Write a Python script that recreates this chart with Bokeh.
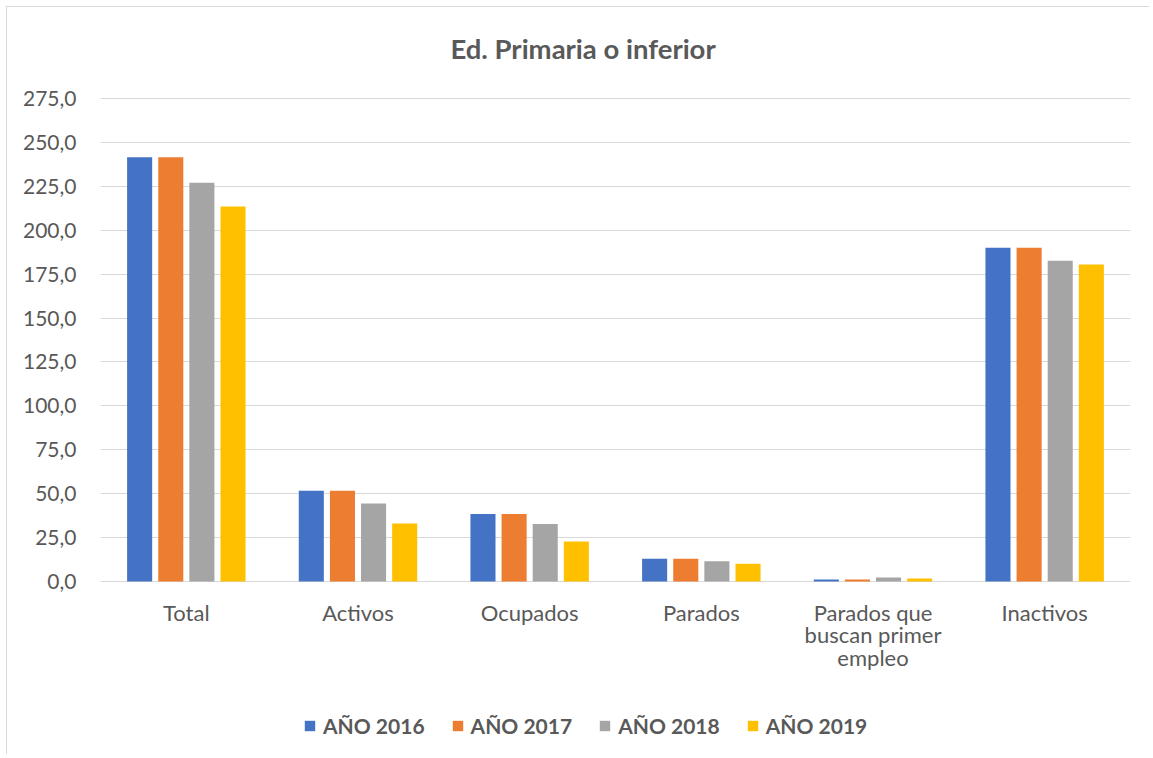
from bokeh.plotting import figure
from bokeh.models import (FactorRange, Range1d, Legend, LegendItem, FixedTicker,
                          CustomJSTickFormatter, ColumnDataSource, Label)
from bokeh.core.properties import value
from bokeh.transform import dodge
from bokeh.embed import file_html
from bokeh.resources import INLINE

title_text = "Ed. Primaria o inferior"
categories = ["Total", "Activos", "Ocupados", "Parados",
              "Parados que buscan primer empleo", "Inactivos"]
category_labels = ["Total", "Activos", "Ocupados", "Parados",
                   "Parados que\nbuscan primer\nempleo", "Inactivos"]
years = ["AÑO 2016", "AÑO 2017", "AÑO 2018", "AÑO 2019"]
y2016 = [241.6, 51.6, 38.5, 12.9, 1.1, 190.0]
y2017 = [241.6, 51.6, 38.5, 12.9, 1.1, 190.0]
y2018 = [227.0, 44.4, 32.8, 11.6, 2.3, 182.6]
y2019 = [213.5, 33.0, 22.8, 10.1, 1.7, 180.5]
y_ticks = [0, 25, 50, 75, 100, 125, 150, 175, 200, 225, 250, 275]

colors = ["#4472C4", "#ED7D31", "#A5A5A5", "#FFC000"]
offsets = [-0.272, -0.0906, 0.0906, 0.272]
TXT = "#595959"
FONT = "Lato"

source = ColumnDataSource(dict(cat=categories, y2016=y2016, y2017=y2017,
                               y2018=y2018, y2019=y2019))
label_source = ColumnDataSource(dict(cat=categories, label=category_labels,
                                     base=[0] * len(categories)))

# frame covers the title, plot and legend areas; 483 px per 275 units
px = 275 / 483
y_bottom = -169 * px
y_top = 275 + 90 * px

p = figure(width=1143, height=748, x_range=FactorRange(factors=categories),
           y_range=Range1d(y_bottom, y_top), output_backend="svg", toolbar_location=None,
           min_border_left=93, min_border_right=20, min_border_top=1,
           min_border_bottom=5)
p.outline_line_color = None
p.styles = {"margin-left": "6px", "margin-top": "6px",
            "border-left": "1px solid #d9d9d9", "border-top": "1px solid #d9d9d9"}

renderers = []
for key, col, off in zip(["y2016", "y2017", "y2018", "y2019"], colors, offsets):
    r = p.vbar(x=dodge("cat", off, range=p.x_range), top=key, width=0.146,
               source=source, fill_color=col, line_color=None)
    renderers.append(r)

p.text(x="cat", y="base", text="label", source=label_source, y_offset=17,
       text_align="center", text_baseline="top", text_color=TXT,
       text_font=value(FONT), text_font_size="22px", text_line_height=0.85)

p.add_layout(Label(x=2.811, y=275 + 50 * px, text=title_text,
                   text_align="center", text_baseline="middle",
                   text_font=FONT, text_font_size="27.5px", text_font_style="bold",
                   text_color=TXT))

p.xgrid.grid_line_color = None
p.ygrid.grid_line_color = "#d9d9d9"
p.ygrid.grid_line_width = 1

p.xaxis.visible = False
p.yaxis.ticker = FixedTicker(ticks=y_ticks)
p.yaxis.formatter = CustomJSTickFormatter(code="return tick.toFixed(1).replace('.', ',');")
ax = p.yaxis[0]
ax.axis_line_color = None
ax.major_tick_line_color = None
ax.minor_tick_line_color = None
ax.major_label_text_font = FONT
ax.major_label_text_font_size = "21px"
ax.major_label_text_color = TXT
ax.major_label_standoff = 18

legend = Legend(items=[LegendItem(label=y, renderers=[r]) for y, r in zip(years, renderers)],
                orientation="horizontal", location=(203, 12))
legend.glyph_width = 13
legend.glyph_height = 13
legend.label_standoff = 7
legend.spacing = 26
legend.padding = 0
legend.margin = 0
legend.border_line_color = None
legend.background_fill_alpha = 0
legend.label_text_font = FONT
legend.label_text_font_size = "21px"
legend.label_text_font_style = "bold"
legend.label_text_color = TXT
p.add_layout(legend, "center")

open("out.html", "w").write(file_html(p, INLINE))
